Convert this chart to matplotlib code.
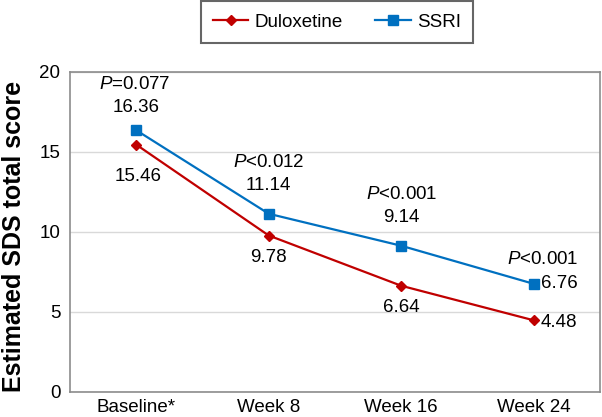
import matplotlib
matplotlib.use("Agg")
import matplotlib.pyplot as plt

categories = ["Baseline*", "Week 8", "Week 16", "Week 24"]
duloxetine = [15.46, 9.78, 6.64, 4.48]
ssri = [16.36, 11.14, 9.14, 6.76]
pvalues = ["=0.077", "<0.012", "<0.001", "<0.001"]

plt.rcParams['font.family'] = ['Liberation Sans', 'DejaVu Sans']
plt.rcParams['mathtext.fontset'] = 'custom'
plt.rcParams['mathtext.it'] = 'Liberation Sans:italic'
plt.rcParams['mathtext.rm'] = 'Liberation Sans'

FS = 13.5

fig = plt.figure(figsize=(6.02, 4.17), dpi=100)
ax = fig.add_axes([70/602, 25/417, 530/602, 320/417])

red = "#C00000"
blue = "#0070C0"
x = list(range(len(categories)))
ax.plot(x, duloxetine, color=red, lw=1.6, marker="D", ms=5.5, label="Duloxetine")
ax.plot(x, ssri, color=blue, lw=1.6, marker="s", ms=7.5, label="SSRI")

ax.set_xlim(-0.5, len(categories) - 0.5)
ax.set_ylim(0, 20)
ax.set_yticks([0, 5, 10, 15, 20])
ax.set_xticks(x)
ax.set_xticklabels(categories)
ax.tick_params(axis="both", length=0, labelsize=FS, colors="black")
ax.tick_params(axis="y", pad=7)
ax.tick_params(axis="x", pad=5)
ax.grid(axis="y", color="#d9d9d9", lw=1)
ax.set_axisbelow(True)
for s in ax.spines.values():
    s.set_color("#8c8c8c")
    s.set_linewidth(1.2)

ax.set_ylabel("Estimated SDS total score", fontsize=18, fontweight="bold", labelpad=6)
ax.yaxis.set_label_coords(-44/530, 0.5 - 4/320, transform=ax.transAxes)

# px offsets -> points (0.72)
k = 0.72
ssri_off = [(0, -23), (0, -28), (0, -28), None]
p_off = [(-2, -46), (0, -51), (0, -51), None]
dul_off = [(2, 32), (0, 22), (0, 22), None]
for i in range(3):
    ax.annotate(f"{ssri[i]:.2f}", (x[i], ssri[i]), xytext=(ssri_off[i][0]*k, -ssri_off[i][1]*k),
                textcoords="offset points", ha="center", va="center", fontsize=FS)
    ax.annotate(f"$\\mathit{{P}}${pvalues[i]}", (x[i], ssri[i]), xytext=(p_off[i][0]*k, -p_off[i][1]*k),
                textcoords="offset points", ha="center", va="center", fontsize=FS)
    ax.annotate(f"{duloxetine[i]:.2f}", (x[i], duloxetine[i]), xytext=(dul_off[i][0]*k, -dul_off[i][1]*k),
                textcoords="offset points", ha="center", va="center", fontsize=FS)
# last point labels to the right
i = 3
ax.annotate(f"{ssri[i]:.2f}", (x[i], ssri[i]), xytext=(7*k, 0), textcoords="offset points",
            ha="left", va="center", fontsize=FS)
ax.annotate(f"$\\mathit{{P}}${pvalues[i]}", (x[i], ssri[i]), xytext=(9*k, 24*k), textcoords="offset points",
            ha="center", va="center", fontsize=FS)
ax.annotate(f"{duloxetine[i]:.2f}", (x[i], duloxetine[i]), xytext=(7*k, -2*k), textcoords="offset points",
            ha="left", va="center", fontsize=FS)

leg = fig.legend(loc="center", bbox_to_anchor=(337/602, 1 - 22/417), ncol=2, fontsize=FS,
                 frameon=True, fancybox=False, handlelength=1.9, handletextpad=0.35,
                 columnspacing=1.7, borderpad=0.65, borderaxespad=0, edgecolor="#404040")
leg.get_frame().set_linewidth(1.5)

fig.savefig("out.png", dpi=100)
